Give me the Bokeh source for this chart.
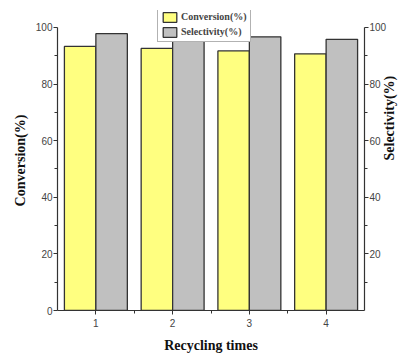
import math
from bokeh.plotting import figure
from bokeh.models import (ColumnDataSource, Range1d, LinearAxis, FixedTicker,
                          Legend, LegendItem)
from bokeh.embed import file_html
from bokeh.resources import INLINE

cycles = [1, 2, 3, 4]
tick_labels = {1: "1", 2: "2", 3: "3", 4: "4"}
conversion = [93.3, 92.6, 91.7, 90.7]
selectivity = [97.8, 97.2, 96.7, 95.8]

bw = 0.41
src = ColumnDataSource(dict(
    xc=[c - bw / 2 for c in cycles],
    xs=[c + bw / 2 for c in cycles],
    conv=conversion,
    sel=selectivity,
))

p = figure(width=407, height=355, output_backend="svg",
           toolbar_location=None,
           x_range=Range1d(0.5, 4.5), y_range=Range1d(0, 106),
           min_border_left=57, min_border_right=40, min_border_top=10,
           min_border_bottom=43)
p.extra_y_ranges = {"right": Range1d(0, 106)}
p.outline_line_color = None
p.xgrid.visible = False
p.ygrid.visible = False
p.background_fill_color = "white"

r1 = p.vbar(x="xc", width=bw, top="conv", bottom=0, source=src,
            fill_color="#FFFF80", line_color="#333333", line_width=1.3)
r2 = p.vbar(x="xs", width=bw, top="sel", bottom=0, source=src,
            fill_color="#C0C0C0", line_color="#333333", line_width=1.3)

tick_font = "Liberation Sans"
label_font = "Liberation Serif"

xa = p.xaxis[0]
xa.ticker = FixedTicker(ticks=cycles, minor_ticks=[1.5, 2.5, 3.5])
xa.major_label_overrides = tick_labels
xa.axis_label = "Recycling times"

ya = p.yaxis[0]
ya.ticker = FixedTicker(ticks=[0, 20, 40, 60, 80, 100],
                        minor_ticks=[10, 30, 50, 70, 90])
ya.bounds = (0, 100)
ya.axis_label = "Conversion(%)"

ra = LinearAxis(y_range_name="right",
                ticker=FixedTicker(ticks=[20, 40, 60, 80, 100],
                                   minor_ticks=[10, 30, 50, 70, 90]),
                bounds=(0, 100), axis_label="Selectivity(%)")
p.add_layout(ra, "right")

for ax in [xa, ya, ra]:
    ax.axis_line_color = "#333333"
    ax.axis_line_width = 1.2
    ax.major_tick_line_color = "#333333"
    ax.minor_tick_line_color = "#333333"
    ax.major_tick_out = 4
    ax.major_tick_in = 0
    ax.minor_tick_out = 3
    ax.minor_tick_in = 0
    ax.major_label_standoff = 1
    ax.major_label_text_font = tick_font
    ax.major_label_text_font_size = "10px"
    ax.major_label_text_color = "#444444"
    ax.axis_label_text_font = label_font
    ax.axis_label_text_font_style = "bold"
    ax.axis_label_text_font_size = "14px"
    ax.axis_label_text_color = "#111111"

xa.major_label_standoff = 4
xa.axis_label_standoff = 8
ya.axis_label_standoff = 5
ra.axis_label_standoff = 0
ra.axis_label_orientation = math.pi / 2

legend = Legend(items=[LegendItem(label="Conversion(%)", renderers=[r1]),
                       LegendItem(label="Selectivity(%)", renderers=[r2])],
                location=(100, 268))
legend.label_text_font = label_font
legend.label_text_font_style = "bold"
legend.label_text_font_size = "10px"
legend.label_height = 13
legend.glyph_width = 17
legend.glyph_height = 12
legend.spacing = 2
legend.padding = 3
legend.margin = 0
legend.label_standoff = 3
legend.border_line_color = "#666666"
legend.border_line_width = 1
legend.background_fill_alpha = 1
p.add_layout(legend, "center")

open("out.html", "w").write(file_html(p, INLINE))
